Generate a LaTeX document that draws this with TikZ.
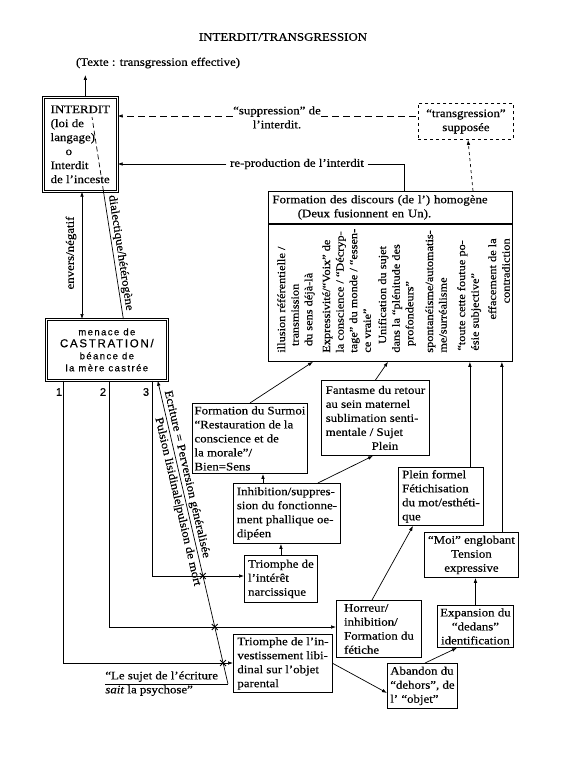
\documentclass[tikz,border=0pt]{standalone}
\usepackage{fontspec}
\setmainfont[FakeStretch=1.12,FakeBold=0.4]{Liberation Serif}
\newfontfamily\castfont[LetterSpace=15,FakeBold=0.4]{Liberation Sans}
\newfontfamily\numfont[FakeBold=0.6]{Liberation Sans}
\usetikzlibrary{calc,arrows.meta,shapes.misc}

\begin{document}
\begin{tikzpicture}[x=1pt, y=-1pt, line width=0.7pt,
    font=\fontsize{11.5}{14}\selectfont,
    >={Latex[length=5pt,width=3.6pt]},
    box/.style={draw, line width=0.9pt, anchor=north west, align=left, inner sep=2pt},
    frame/.style={box, double, double distance=0.9pt, line width=0.7pt},
    col/.style={rotate=90, anchor=north west, align=left, inner sep=0pt,
        font=\fontsize{11}{13.6}\selectfont},
    xmark/.style={draw, cross out, line width=0.9pt, minimum size=5pt, inner sep=0pt},
    num/.style={font=\numfont\fontsize{11}{12}\selectfont, inner sep=0pt},
    dashline/.style={dash pattern=on 7pt off 4pt}]
    %%%%% START %%%%%

    \useasboundingbox (0,0) rectangle (567,761);

    \node (titre) at (283,37) {INTERDIT/TRANSGRESSION};
    \node (texte) at (158,63) {(Texte : transgression effective)};

    % boites du haut
    \node[frame, minimum width=74, minimum height=94] (interdit) at (43,97)
        {INTERDIT\\(loi de\\langage)\\\hspace*{1.3em}o\\Interdit\\de l'inceste};
    \node[box, dashed, align=center, minimum width=95, minimum height=36] (transgr) at (418,103)
        {“transgression”\\supposée};
    \node[align=center, anchor=north, inner sep=0pt] (supp) at (277,106) {“suppression” de\\l'interdit.};
    \node (repro) at (297,164) {re-production de l'interdit};

    \node[frame, align=center, minimum width=121, minimum height=61,
        font=\castfont\fontsize{9.5}{12}\selectfont] (castration) at (46,319)
        {menace de\\{\fontsize{11.5}{12}\selectfont CASTRATION/}\\béance de\\la mère castrée};

    % discours homogene
    \node[box, minimum width=244, minimum height=32, text width=236, inner xsep=4pt] (discours) at (268,191)
        {Formation des discours (de l') homogène\\\hspace*{2.2em}(Deux fusionnent en Un).};
    \node[box, minimum width=244, minimum height=137, inner sep=0pt] (discbody) at (discours.south west) {};
    \node[col] (col1) at (277,353) {illusion référentielle /\\\hspace*{0.6em}transmission\\\hspace*{0.6em}du sens déjà-là};
    \node[col] (col2) at (322,353) {Expressivité/“Voix” de\\la conscience / “Décryp-\\tage” du monde / “essen-\\ce vraie”};
    \node[col] (col3) at (378,353) {\hspace*{0.8em}Unification du sujet\\dans la “plénitude des\\\hspace*{0.6em}profondeurs”};
    \node[col] (col4) at (425,353) {spontanéisme/automatis-\\me/surréalisme};
    \node[col] (col5) at (457,351) {“toute cette foutue po-\\ésie subjective”};
    \node[col, anchor=north east, align=right] (col6) at (488,238) {effacement de la\\contradiction};

    % boites du bas
    \node[box, minimum width=115, minimum height=70] (surmoi) at (192,403)
        {Formation du Surmoi\\“Restauration de la\\conscience et de\\la morale”/\\Bien=Sens};
    \node[box, minimum width=108, minimum height=75] (fantasme) at (321,380)
        {Fantasme du retour\\au sein maternel\\sublimation senti-\\mentale / Sujet\\\hspace*{4em}Plein};
    \node[box, minimum width=107, minimum height=60] (inhibition) at (233,483)
        {Inhibition/suppres-\\sion du fonctionne-\\ment phallique oe-\\dipéen};
    \node[box, minimum width=85, minimum height=58] (pleinformel) at (398,467)
        {Plein formel\\Fétichisation\\du mot/esthéti-\\que};
    \node[box, align=center, minimum width=94, minimum height=45] (moi) at (424,532)
        {“Moi” englobant\\Tension\\expressive};
    \node[box, minimum width=73, minimum height=47] (narcissique) at (244,555)
        {Triomphe de\\l'intérêt\\narcissique};
    \node[box, minimum width=85, minimum height=57] (horreur) at (336,600)
        {Horreur/\\inhibition/\\Formation du\\fétiche};
    \node[box, align=center, minimum width=76, minimum height=42] (expansion) at (437,605)
        {Expansion du\\“dedans”\\identification};
    \node[box, minimum width=99, minimum height=58] (investissement) at (233,634)
        {Triomphe de l'in-\\vestissement libi-\\dinal sur l'objet\\parental};
    \node[box, minimum width=70, minimum height=45] (abandon) at (387,663)
        {Abandon du\\“dehors”, de\\l' “objet”};

    % liaisons du haut
    \coordinate (tx) at ($(interdit.north)+(5,0)$);
    \draw[->, shorten >=3pt] (tx) -- (texte.south -| tx);
    \coordinate (sy) at (0,116);
    \draw[->, dashline] (supp.west |- sy) -- (interdit.east |- sy);
    \draw[dashline] (supp.east |- sy) -- (transgr.west |- sy);
    \draw[->] (repro.west) -- (interdit.east |- repro.west);
    \draw (repro.east) -| ($(discours.north west)+(136,0)$);
    \draw[->, dashed] ($(discours.north west)+(205,0)$) -- ($(transgr.south west)+(50,0)$);

    % interdit / castration
    \coordinate (envx) at (82,250);
    \draw[<->] (interdit.south -| envx) -- (castration.north -| envx);
    \node[rotate=90] (envlbl) at (71,253) {envers/négatif};
    \coordinate (dmid) at (103.4,191);
    \coordinate (dtop) at (92,117);
    \draw ($(castration.north)+(16.5,0)$) -- (dmid);
    \draw[dash pattern=on 5pt off 3pt] (dmid) -- (dtop);
    \node[rotate=-81.3, anchor=south, inner sep=2pt] (dialbl) at (113,254) {dialectique/hétérogène};

    % les trois voies
    \coordinate (c1) at (63,663);
    \coordinate (c2) at (109,627);
    \coordinate (c3) at (152,576);
    \draw[->] (castration.south -| c1) -- (c1) -- (investissement.west |- c1);
    \draw[->] (castration.south -| c2) -- (c2) -- (horreur.west |- c2);
    \draw[->] (castration.south -| c3) -- (c3) -- (narcissique.west |- c3);
    \node[num] (n1) at (59,392) {1};
    \node[num] (n2) at (103,392) {2};
    \node[num] (n3) at (146,392) {3};

    % ecriture
    \coordinate (ecrend) at (228,684);
    \draw[->] (ecrend) -- ($(castration.south east)+(-10,0)$);
    \node[xmark] (x3) at (202.8,576) {};
    \node[xmark] (x2) at (214.7,627) {};
    \node[xmark] (x1) at (223.1,663) {};
    \node[rotate=-76.9, anchor=south, inner sep=2pt] (ecrlbl) at (179.4,476) {Ecriture = Perversion généralisée};
    \node[rotate=-76.9, anchor=north, inner sep=2pt] (pulslbl) at (185,500) {Pulsion lisidinale|pulsion de mort};
    \node[anchor=north west, align=left, inner sep=0pt] (sujet) at (105,671)
        {“Le sujet de l'écriture\\\textit{sait} la psychose”};
    \draw (sujet.west |- ecrend) -- (ecrend);

    % vers le discours
    \draw[->] (surmoi.north) -- ($(discbody.south west)+(45,0)$);
    \draw[->] (fantasme.north) -- ($(discbody.south west)+(120,0)$);
    \coordinate (pf) at ($(pleinformel.north east)+(-14,0)$);
    \draw[->] (pf) -- (discbody.south -| pf);
    \coordinate (mo) at ($(moi.north east)+(-17,0)$);
    \draw[->] (mo) -- (discbody.south -| mo);

    % liaisons du bas
    \coordinate (ia) at ($(inhibition.north west)+(30,0)$);
    \draw[->] (ia) -- (surmoi.south -| ia);
    \draw[->] ($(inhibition.north east)+(-23,0)$) -- ($(fantasme.south west)+(52,0)$);
    \draw[->] (narcissique.north) -- (inhibition.south -| narcissique.north);
    \draw[->] ($(horreur.north west)+(36,0)$) -- ($(pleinformel.south west)+(15,0)$);
    \draw[->] (expansion.north) -- (moi.south -| expansion.north);
    \draw[->] ($(abandon.north west)+(38,0)$) -- ($(expansion.south west)+(20,0)$);
    \draw[->] (investissement.east) -- ($(abandon.west)+(0,7)$);

    %%%%% END %%%%%
\end{tikzpicture}
\end{document}
